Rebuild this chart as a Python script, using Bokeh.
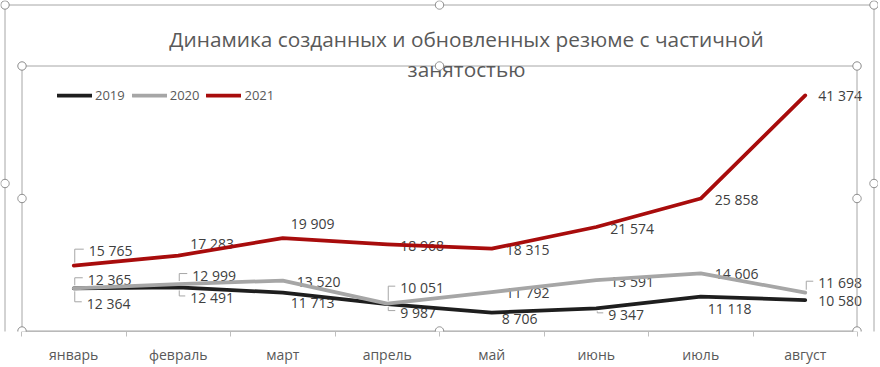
import math
from bokeh.plotting import figure
from bokeh.models import (Range1d, FixedTicker, Label, Legend, LegendItem,
                          PolyAnnotation, BoxAnnotation, ColumnDataSource)
from bokeh.core.properties import value
from bokeh.embed import file_html
from bokeh.resources import INLINE

# ---------------- data ----------------
months = ["январь", "февраль", "март", "апрель", "май", "июнь", "июль", "август"]
years = ["2019", "2020", "2021"]
v2019 = [12364, 12491, 11713, 9987, 8706, 9347, 11118, 10580]
v2020 = [12365, 12999, 13520, 10051, 11792, 13591, 14606, 11698]
v2021 = [15765, 17283, 19909, 18968, 18315, 21574, 25858, 41374]
title_lines = ["Динамика созданных и обновленных резюме с частичной", "занятостью"]

# ---------------- label placement (pixels) ----------------
off2019 = [(13, 15), (12, 10), (8, 10), (13, 8), (10, 6), (12, 6), (7, 12), (13, 0)]
off2020 = [(14, -9), (14, -9), (14, 1), (13, -16), (14, 0), (14, 1), (14, 0), (13, -10)]
off2021 = [(15, -15), (12, -12), (8, -15), (13, 1), (14, 1), (14, 1.5), (14, 1), (13, 0)]
lead2019 = [0, 1, 3, 5]
lead2020 = [0, 1, 3, 7]
lead2021 = [0]

colors = ["#1e1e1e", "#a6a6a6", "#a80c0c"]
FONT = "Open Sans"
W, H = 878, 367
AXIS_H = 36
frame_w = W
frame_h = H - AXIS_H
FRAME_COLOR = "#a6a6a6"

# plot area (Excel "plot area") in pixels
PL, PR, PT = 21, 857, 65
cat_px = (PR - PL) / len(months)
x_lo = -0.5 - PL / cat_px
x_hi = x_lo + W / cat_px
y_lo, y_hi = 5865, 55640

p = figure(width=W, height=H, output_backend="svg", toolbar_location=None,
           x_range=Range1d(x_lo, x_hi), y_range=Range1d(y_lo, y_hi),
           y_axis_location=None, min_border_left=0, min_border_right=0,
           min_border_top=0, min_border_bottom=AXIS_H)
p.background_fill_color = "white"
p.border_fill_color = "white"
p.grid.visible = False
p.outline_line_color = None

ax = p.xaxis[0]
ax.bounds = (-0.5, len(months) - 0.5)
ax.ticker = FixedTicker(ticks=list(range(len(months))),
                        minor_ticks=[i - 0.5 for i in range(len(months) + 1)])
ax.major_label_overrides = {i: m for i, m in enumerate(months)}
ax.major_tick_line_color = None
ax.major_tick_out = 0
ax.major_tick_in = 0
ax.minor_tick_out = 5
ax.minor_tick_in = 0
ax.minor_tick_line_color = "#bfbfbf"
ax.axis_line_color = "#bfbfbf"
ax.major_label_text_font = FONT
ax.major_label_text_font_size = "14px"
ax.major_label_text_color = "#595959"
ax.major_label_standoff = 8

xs_per_px = (x_hi - x_lo) / frame_w
ys_per_px = (y_hi - y_lo) / frame_h

xi = list(range(len(months)))


def fmt(v):
    return f"{v:,}".replace(",", " ")


series = [(v2019, off2019, lead2019), (v2020, off2020, lead2020), (v2021, off2021, lead2021)]

# inner plot-area selection frame
p.add_layout(BoxAnnotation(left=PL + 0.5, right=PR - 0.5, top=PT + 0.5, bottom=frame_h - 0.5,
                           left_units="canvas", right_units="canvas",
                           top_units="canvas", bottom_units="canvas",
                           fill_alpha=0, line_color=FRAME_COLOR, line_alpha=1, line_width=1))
# outer chart-area frame (visible part above the axis panel)
p.add_layout(BoxAnnotation(left=4.5, right=873.5, top=4.5, bottom=H - 5.5,
                           left_units="canvas", right_units="canvas",
                           top_units="canvas", bottom_units="canvas",
                           fill_alpha=0, line_color=FRAME_COLOR, line_alpha=1, line_width=1))

# data labels (drawn below lines, as in the reference)
for vals, offs, leads in series:
    src = ColumnDataSource(dict(x=xi, y=vals, t=[fmt(v) for v in vals],
                                dx=[o[0] for o in offs], dy=[o[1] for o in offs]))
    p.text(x="x", y="y", text="t", x_offset="dx", y_offset="dy", source=src,
           text_font=value(FONT), text_font_size="14px", text_color="#404040",
           text_align="left", text_baseline="middle")
    lx, ly = [], []
    for i in leads:
        dx, dy = offs[i]
        sgn = -1 if dy < 0 else 1
        y0 = vals[i] - sgn * 3 * ys_per_px
        yc = vals[i] - (dy - 1.5) * ys_per_px
        x0 = i + 1 * xs_per_px
        x1 = i + (dx - 5) * xs_per_px
        lx.append([x0, x0, x1])
        ly.append([y0, yc, yc])
    if lx:
        p.multi_line(xs=lx, ys=ly, line_color="#a6a6a6", line_width=1)

renderers = []
for (vals, _, _), c in zip(series, colors):
    r = p.line(xi, vals, line_color=c, line_width=3.75, line_join="round", line_cap="round")
    renderers.append(r)

legend = Legend(items=[LegendItem(label=y, renderers=[r]) for y, r in zip(years, renderers)],
                orientation="horizontal", location=(57, frame_h - 96 - 9),
                glyph_width=35, glyph_height=20, label_standoff=3, spacing=7,
                padding=0, margin=0, border_line_color=None, background_fill_alpha=0,
                label_text_font=FONT, label_text_font_size="13px",
                label_text_color="#595959")
p.add_layout(legend)

# title
for t, yb in zip(title_lines, [38.7, 68.0]):
    p.add_layout(Label(x=466, y=yb, x_units="canvas", y_units="canvas", text=t,
                       text_font=FONT, text_font_size="20.8px", text_color="#595959",
                       text_align="center", text_baseline="alphabetic"))


def handle(cx, cy, r=4.2, n=24):
    xs = [cx + r * math.cos(2 * math.pi * k / n) for k in range(n)]
    ys = [cy + r * math.sin(2 * math.pi * k / n) for k in range(n)]
    return PolyAnnotation(xs=xs, ys=ys, xs_units="canvas", ys_units="canvas",
                          fill_color="white", fill_alpha=1, line_color="#8c8c8c",
                          line_alpha=1, line_width=1, level="overlay")


fl, fr, ft, fb = PL + 0.5, PR - 0.5, PT + 0.5, frame_h - 0.5
ol, orr, ot, ob = 4.5, 873.5, 4.5, H - 5.5
for hx, hy in [(fl, ft), (fr, ft), (fl, fb), (fr, fb), (fl, (ft + fb) / 2), (fr, (ft + fb) / 2),
               ((fl + fr) / 2, ft), ((fl + fr) / 2, fb),
               (ol, ot), (orr, ot), (ol, ob), (orr, ob),
               (ol, (ot + ob) / 2), (orr, (ot + ob) / 2), ((ol + orr) / 2, ot), ((ol + orr) / 2, ob)]:
    p.add_layout(handle(hx, hy))

open("out.html", "w").write(file_html(p, INLINE))
